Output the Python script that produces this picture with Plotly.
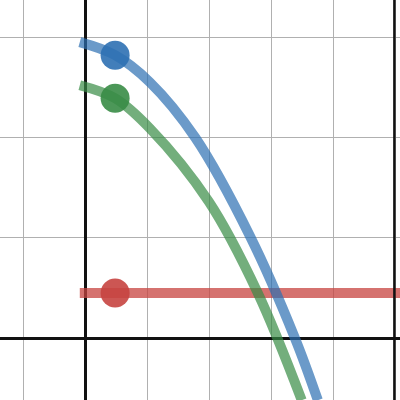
import plotly.graph_objects as go

# curve samples
blue_x = [-0.10, 0.47, 1.03, 1.76, 2.65, 3.37, 3.74]
blue_y = [2.95, 2.82, 2.55, 2.00, 1.01, 0.0, -0.62]
green_x = [-0.10, 0.47, 1.03, 1.98, 2.77, 3.48]
green_y = [2.52, 2.39, 2.09, 1.36, 0.45, -0.62]
red_x = [-0.10, 5.30]
red_y = [0.45, 0.45]

# highlighted points
dot_x = [0.47, 0.47, 0.47]
dot_y = [2.82, 2.39, 0.45]
dot_colors = ['#2d70b3', '#388c46', '#c74440']

fig = go.Figure()

fig.add_trace(go.Scatter(x=red_x, y=red_y, mode='lines',
    line=dict(color='#c74440', width=10), opacity=0.75, hoverinfo='skip'))
fig.add_trace(go.Scatter(x=green_x, y=green_y, mode='lines', line_shape='spline',
    line=dict(color='#388c46', width=10, smoothing=1), opacity=0.7, hoverinfo='skip'))
fig.add_trace(go.Scatter(x=blue_x, y=blue_y, mode='lines', line_shape='spline',
    line=dict(color='#2d70b3', width=10, smoothing=1), opacity=0.7, hoverinfo='skip'))

for px, py, c in zip(dot_x, dot_y, dot_colors):
    fig.add_trace(go.Scatter(x=[px], y=[py], mode='markers',
        marker=dict(size=29, color=c, opacity=0.9, line=dict(width=0)), hoverinfo='skip'))

axis_common = dict(showticklabels=False, ticks='', dtick=1,
                   gridcolor='#b0b0b0', gridwidth=1.3,
                   zeroline=True, zerolinecolor='#111111', zerolinewidth=3,
                   showline=False, fixedrange=True)

fig.update_layout(
    width=400, height=400,
    margin=dict(l=0, r=0, t=0, b=0),
    paper_bgcolor='white', plot_bgcolor='white',
    showlegend=False,
    xaxis=dict(range=[-1.387, 5.065], tick0=0, **axis_common),
    yaxis=dict(range=[-0.618, 3.37], tick0=0, **axis_common),
    shapes=[dict(type='line', xref='paper', yref='paper', x0=0.986, x1=0.986,
                 y0=0, y1=1, layer='above', line=dict(color='#111111', width=2.5))],
)

# drop the default page margin so the plot sits at the window corner
fig.write_html("out.html", config={'displayModeBar': False},
               post_script="document.body.style.margin='0';")
